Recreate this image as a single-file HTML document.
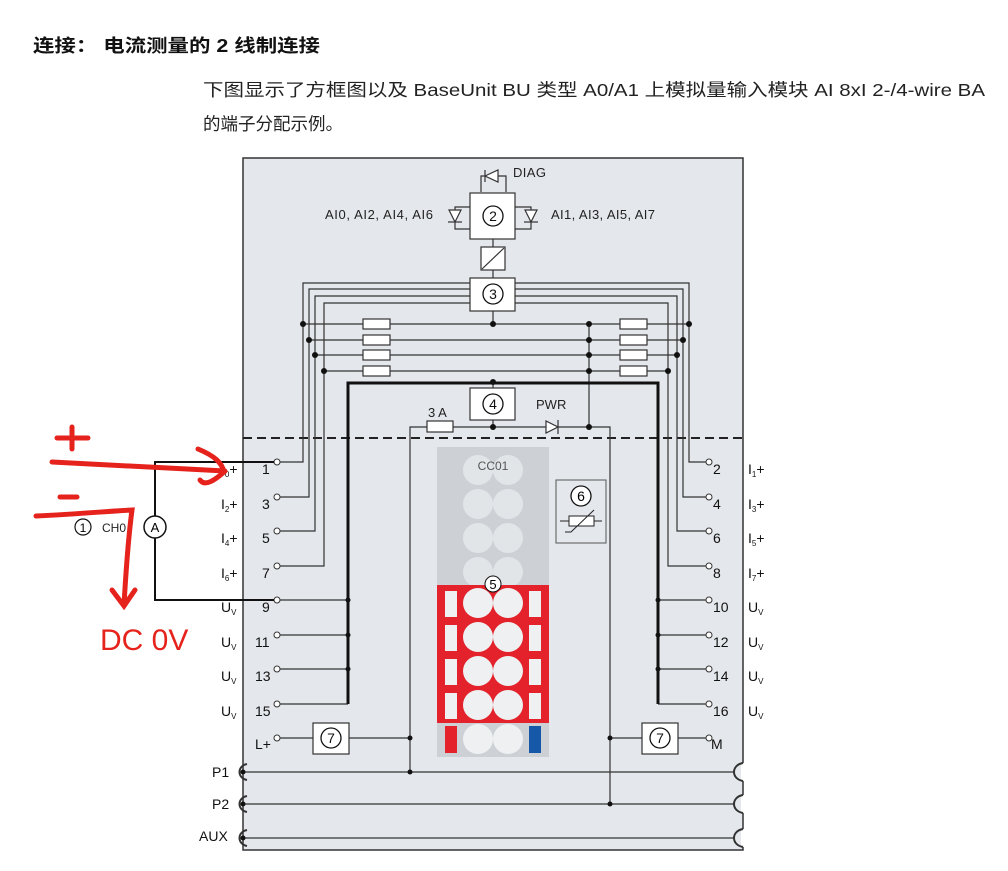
<!DOCTYPE html>
<html><head><meta charset="utf-8"><style>
body{margin:0;background:#fff;width:1008px;height:871px;overflow:hidden}
svg{display:block}
text{font-family:"Liberation Sans","Noto Sans CJK SC",sans-serif}
</style></head><body>
<svg width="1008" height="871" viewBox="0 0 1008 871" xmlns="http://www.w3.org/2000/svg">
<text x="33" y="52" font-size="18" font-weight="bold" fill="#111" textLength="287" lengthAdjust="spacingAndGlyphs">连接： 电流测量的 2 线制连接</text>
<text x="203" y="96" font-size="17.5" fill="#222" textLength="782" lengthAdjust="spacingAndGlyphs">下图显示了方框图以及 BaseUnit BU 类型 A0/A1 上模拟量输入模块 AI 8xI 2-/4-wire BA</text>
<text x="203" y="130" font-size="17.5" fill="#222">的端子分配示例。</text>

<!-- main box -->
<rect x="243" y="158" width="500" height="692" fill="#e4e7eb" stroke="#333" stroke-width="1.5"/>
<line x1="243" y1="438" x2="743" y2="438" stroke="#222" stroke-width="2" stroke-dasharray="9,5"/>

<g stroke="#333" stroke-width="1.2" fill="none">
<polyline points="481,192 481,176 506,176 506,192"/>
<polygon points="485,176 498,170 498,182" fill="#fff"/><line x1="485" y1="170" x2="485" y2="182"/>
<polyline points="470,207 455,207 455,229 470,229"/>
<polygon points="455,222 449,210 461,210" fill="#fff"/><line x1="448" y1="222" x2="462" y2="222"/>
<polyline points="515,207 531,207 531,229 515,229"/>
<polygon points="531,222 525,210 537,210" fill="#fff"/><line x1="524" y1="222" x2="538" y2="222"/>
<rect x="470" y="193" width="45" height="46" fill="#fff"/>
<line x1="493" y1="239" x2="493" y2="247"/>
<rect x="481" y="247" width="24" height="23" fill="#fff"/>
<line x1="482" y1="269" x2="504" y2="248"/>
<line x1="493" y1="270" x2="493" y2="278"/>
<polyline points="470,283 303,283 303,462 277,462"/>
<polyline points="470,289 309,289 309,497 277,497"/>
<polyline points="470,296 315,296 315,531 277,531"/>
<polyline points="470,303 324,303 324,566 277,566"/>
<polyline points="515,283 689,283 689,462 709,462"/>
<polyline points="515,289 683,289 683,497 709,497"/>
<polyline points="515,296 677,296 677,531 709,531"/>
<polyline points="515,303 668,303 668,566 709,566"/>
<rect x="470" y="278" width="45" height="33" fill="#fff"/>
<line x1="493" y1="311" x2="493" y2="324"/>
<line x1="303" y1="324" x2="689" y2="324"/>
<line x1="309" y1="340" x2="683" y2="340"/>
<line x1="315" y1="355" x2="677" y2="355"/>
<line x1="324" y1="371" x2="668" y2="371"/>
<g fill="#fff">
<rect x="363" y="319" width="27" height="10"/><rect x="363" y="335" width="27" height="10"/>
<rect x="363" y="350" width="27" height="10"/><rect x="363" y="366" width="27" height="10"/>
<rect x="620" y="319" width="27" height="10"/><rect x="620" y="335" width="27" height="10"/>
<rect x="620" y="350" width="27" height="10"/><rect x="620" y="366" width="27" height="10"/>
</g>
<line x1="589" y1="324" x2="589" y2="427"/>
<line x1="493" y1="382" x2="493" y2="388"/>
<rect x="470" y="388" width="45" height="32" fill="#fff"/>
<line x1="493" y1="420" x2="493" y2="427"/>
<polyline points="410,772 410,427 610,427 610,804"/>
<rect x="427" y="421" width="26" height="11" fill="#fff"/>
<polygon points="546,421 546,433 558,427" fill="#fff"/><line x1="558" y1="420" x2="558" y2="434"/>
<line x1="348" y1="600" x2="277" y2="600"/><line x1="348" y1="635" x2="277" y2="635"/>
<line x1="348" y1="669" x2="277" y2="669"/><line x1="348" y1="704" x2="277" y2="704"/>
<line x1="658" y1="600" x2="709" y2="600"/><line x1="658" y1="635" x2="709" y2="635"/>
<line x1="658" y1="669" x2="709" y2="669"/><line x1="658" y1="704" x2="709" y2="704"/>
<line x1="277" y1="738" x2="410" y2="738"/><line x1="610" y1="738" x2="709" y2="738"/>
<rect x="313" y="723" width="36" height="31" fill="#fff"/>
<rect x="642" y="723" width="36" height="31" fill="#fff"/>
<line x1="243" y1="772" x2="735" y2="772"/>
<line x1="243" y1="804" x2="735" y2="804"/>
<line x1="243" y1="838" x2="735" y2="838"/>
</g>
<g stroke="#333" stroke-width="2" fill="none">
<path d="M247,764 C237,766 237,778 247,780"/>
<path d="M247,796 C237,798 237,810 247,812"/>
<path d="M247,830 C237,832 237,844 247,846"/>
</g>
<g fill="#fff" stroke="none">
<rect x="741" y="763" width="4" height="18"/><rect x="741" y="795" width="4" height="18"/><rect x="741" y="829" width="4" height="18"/>
</g>
<g stroke="#333" stroke-width="2" fill="none">
<path d="M743,763 C731,765 731,779 743,781"/>
<path d="M743,795 C731,797 731,811 743,813"/>
<path d="M743,829 C731,831 731,845 743,847"/>
</g>
<polyline points="348,704 348,383 658,383 658,704" fill="none" stroke="#111" stroke-width="3"/>
<g fill="#fff" stroke="#333" stroke-width="1">
<circle cx="277" cy="462" r="3"/><circle cx="277" cy="497" r="3"/><circle cx="277" cy="531" r="3"/><circle cx="277" cy="566" r="3"/>
<circle cx="277" cy="600" r="3"/><circle cx="277" cy="635" r="3"/><circle cx="277" cy="669" r="3"/><circle cx="277" cy="704" r="3"/><circle cx="277" cy="738" r="3"/>
<circle cx="709" cy="462" r="3"/><circle cx="709" cy="497" r="3"/><circle cx="709" cy="531" r="3"/><circle cx="709" cy="566" r="3"/>
<circle cx="709" cy="600" r="3"/><circle cx="709" cy="635" r="3"/><circle cx="709" cy="669" r="3"/><circle cx="709" cy="704" r="3"/><circle cx="709" cy="738" r="3"/>
</g>
<g fill="#111">
<circle cx="303" cy="324" r="3"/><circle cx="309" cy="340" r="3"/><circle cx="315" cy="355" r="3"/><circle cx="324" cy="371" r="3"/>
<circle cx="689" cy="324" r="3"/><circle cx="683" cy="340" r="3"/><circle cx="677" cy="355" r="3"/><circle cx="668" cy="371" r="3"/>
<circle cx="493" cy="324" r="3"/><circle cx="589" cy="324" r="3"/><circle cx="589" cy="340" r="3"/><circle cx="589" cy="355" r="3"/><circle cx="589" cy="371" r="3"/>
<circle cx="493" cy="382" r="3"/><circle cx="493" cy="427" r="3"/><circle cx="589" cy="427" r="3"/>
<circle cx="348" cy="600" r="2.5"/><circle cx="348" cy="635" r="2.5"/><circle cx="348" cy="669" r="2.5"/>
<circle cx="658" cy="600" r="2.5"/><circle cx="658" cy="635" r="2.5"/><circle cx="658" cy="669" r="2.5"/>
<circle cx="410" cy="738" r="2.5"/><circle cx="410" cy="772" r="2.5"/><circle cx="610" cy="738" r="2.5"/><circle cx="610" cy="804" r="2.5"/>
<circle cx="243" cy="772" r="2.5"/><circle cx="243" cy="804" r="2.5"/><circle cx="243" cy="838" r="2.5"/>
</g>
<g fill="#fff" stroke="#111" stroke-width="1.3">
<circle cx="493" cy="216" r="10"/><circle cx="493" cy="294" r="10"/><circle cx="493" cy="404" r="10"/>
<circle cx="331" cy="738" r="10"/><circle cx="660" cy="738" r="10"/>
</g>
<g font-size="14" text-anchor="middle" fill="#111">
<text x="493" y="221">2</text><text x="493" y="299">3</text><text x="493" y="409">4</text>
<text x="331" y="743">7</text><text x="660" y="743">7</text>
</g>
<g font-size="13" fill="#222">
<text x="513" y="177" textLength="33">DIAG</text>
<text x="325" y="219" textLength="108">AI0, AI2, AI4, AI6</text>
<text x="551" y="219" textLength="104">AI1, AI3, AI5, AI7</text>
<text x="428" y="417">3 A</text>
<text x="536" y="409">PWR</text>
</g>
<rect x="437" y="447" width="112" height="310" fill="#cdd1d6"/>
<g fill="#e2e5e8">
<circle cx="478" cy="470" r="15"/><circle cx="508" cy="470" r="15"/>
<circle cx="478" cy="504" r="15"/><circle cx="508" cy="504" r="15"/>
<circle cx="478" cy="538" r="15"/><circle cx="508" cy="538" r="15"/>
<circle cx="478" cy="572" r="15"/><circle cx="508" cy="572" r="15"/>
</g>
<text x="493" y="470" font-size="12" text-anchor="middle" fill="#555">CC01</text>
<rect x="437" y="585" width="112" height="138" fill="#e3222b"/>
<g fill="#eef0f2">
<circle cx="478" cy="603" r="15"/><circle cx="508" cy="603" r="15"/>
<circle cx="478" cy="637" r="15"/><circle cx="508" cy="637" r="15"/>
<circle cx="478" cy="671" r="15"/><circle cx="508" cy="671" r="15"/>
<circle cx="478" cy="705" r="15"/><circle cx="508" cy="705" r="15"/>
<rect x="445" y="591" width="12" height="26"/><rect x="529" y="591" width="12" height="26"/>
<rect x="445" y="625" width="12" height="26"/><rect x="529" y="625" width="12" height="26"/>
<rect x="445" y="659" width="12" height="26"/><rect x="529" y="659" width="12" height="26"/>
<rect x="445" y="693" width="12" height="26"/><rect x="529" y="693" width="12" height="26"/>
<circle cx="478" cy="739" r="15"/><circle cx="508" cy="739" r="15"/>
</g>
<rect x="445" y="726" width="12" height="27" fill="#e3222b"/>
<rect x="529" y="726" width="12" height="27" fill="#1658a8"/>
<circle cx="493" cy="584" r="8" fill="#fff" stroke="#111"/>
<text x="493" y="589" font-size="13" text-anchor="middle">5</text>
<rect x="556" y="480" width="50" height="63" fill="#e4e7eb" stroke="#555"/>
<circle cx="581" cy="496" r="10" fill="#fff" stroke="#111" stroke-width="1.3"/>
<text x="581" y="501" font-size="14" text-anchor="middle">6</text>
<g stroke="#222" fill="none"><rect x="569" y="516" width="25" height="10" fill="#fff"/><line x1="560" y1="521" x2="569" y2="521"/><line x1="594" y1="521" x2="602" y2="521"/><polyline points="565,532 571,532 594,510"/></g>
<g font-size="14" fill="#111">
<text x="262" y="474">1</text><text x="262" y="509">3</text><text x="262" y="543">5</text><text x="262" y="578">7</text>
<text x="262" y="612">9</text><text x="255" y="647">11</text><text x="255" y="681">13</text><text x="255" y="716">15</text>
<text x="255" y="749">L+</text>
<text x="713" y="474">2</text><text x="713" y="509">4</text><text x="713" y="543">6</text><text x="713" y="578">8</text>
<text x="713" y="612">10</text><text x="713" y="647">12</text><text x="713" y="681">14</text><text x="713" y="716">16</text>
<text x="711" y="749">M</text>
<text x="221" y="474">I<tspan font-size="8" dy="3">0</tspan><tspan dy="-3">+</tspan></text>
<text x="221" y="509">I<tspan font-size="8" dy="3">2</tspan><tspan dy="-3">+</tspan></text>
<text x="221" y="543">I<tspan font-size="8" dy="3">4</tspan><tspan dy="-3">+</tspan></text>
<text x="221" y="578">I<tspan font-size="8" dy="3">6</tspan><tspan dy="-3">+</tspan></text>
<text x="221" y="612">U<tspan font-size="8" dy="3">V</tspan></text>
<text x="221" y="647">U<tspan font-size="8" dy="3">V</tspan></text>
<text x="221" y="681">U<tspan font-size="8" dy="3">V</tspan></text>
<text x="221" y="716">U<tspan font-size="8" dy="3">V</tspan></text>
<text x="748" y="474">I<tspan font-size="8" dy="3">1</tspan><tspan dy="-3">+</tspan></text>
<text x="748" y="509">I<tspan font-size="8" dy="3">3</tspan><tspan dy="-3">+</tspan></text>
<text x="748" y="543">I<tspan font-size="8" dy="3">5</tspan><tspan dy="-3">+</tspan></text>
<text x="748" y="578">I<tspan font-size="8" dy="3">7</tspan><tspan dy="-3">+</tspan></text>
<text x="748" y="612">U<tspan font-size="8" dy="3">V</tspan></text>
<text x="748" y="647">U<tspan font-size="8" dy="3">V</tspan></text>
<text x="748" y="681">U<tspan font-size="8" dy="3">V</tspan></text>
<text x="748" y="716">U<tspan font-size="8" dy="3">V</tspan></text>
<text x="212" y="777">P1</text><text x="212" y="809">P2</text><text x="199" y="841">AUX</text>
</g>
<g stroke="#111" stroke-width="2" fill="none">
<polyline points="274,462 155,462 155,516"/>
<polyline points="155,538 155,600 274,600"/>
</g>
<circle cx="155" cy="527" r="11" fill="#fff" stroke="#111" stroke-width="1.5"/>
<text x="155" y="532" font-size="13" text-anchor="middle">A</text>
<circle cx="83" cy="527" r="8" fill="#fff" stroke="#111" stroke-width="1.2"/>
<text x="83" y="532" font-size="12" text-anchor="middle">1</text>
<text x="102" y="532" font-size="12" fill="#222">CH0</text>
<g stroke="#e5221c" stroke-width="5" fill="none" stroke-linecap="round">
<line x1="57" y1="438" x2="88" y2="438"/><line x1="72" y1="427" x2="72" y2="449"/>
<path d="M52,462 C120,466 170,468 225,471"/>
<path d="M198,449 C215,456 222,463 224,472 C215,480 205,487 200,480"/>
<line x1="60" y1="497" x2="77" y2="497"/>
<path d="M36,516 C80,514 110,511 132,510 C128,540 126,570 124,605"/>
<path d="M112,590 L124,606 L135,590"/>
</g>
<text x="100" y="650" font-size="30" fill="#e5221c" font-family="'DejaVu Sans',sans-serif">DC 0V</text>
</svg>
</body></html>
